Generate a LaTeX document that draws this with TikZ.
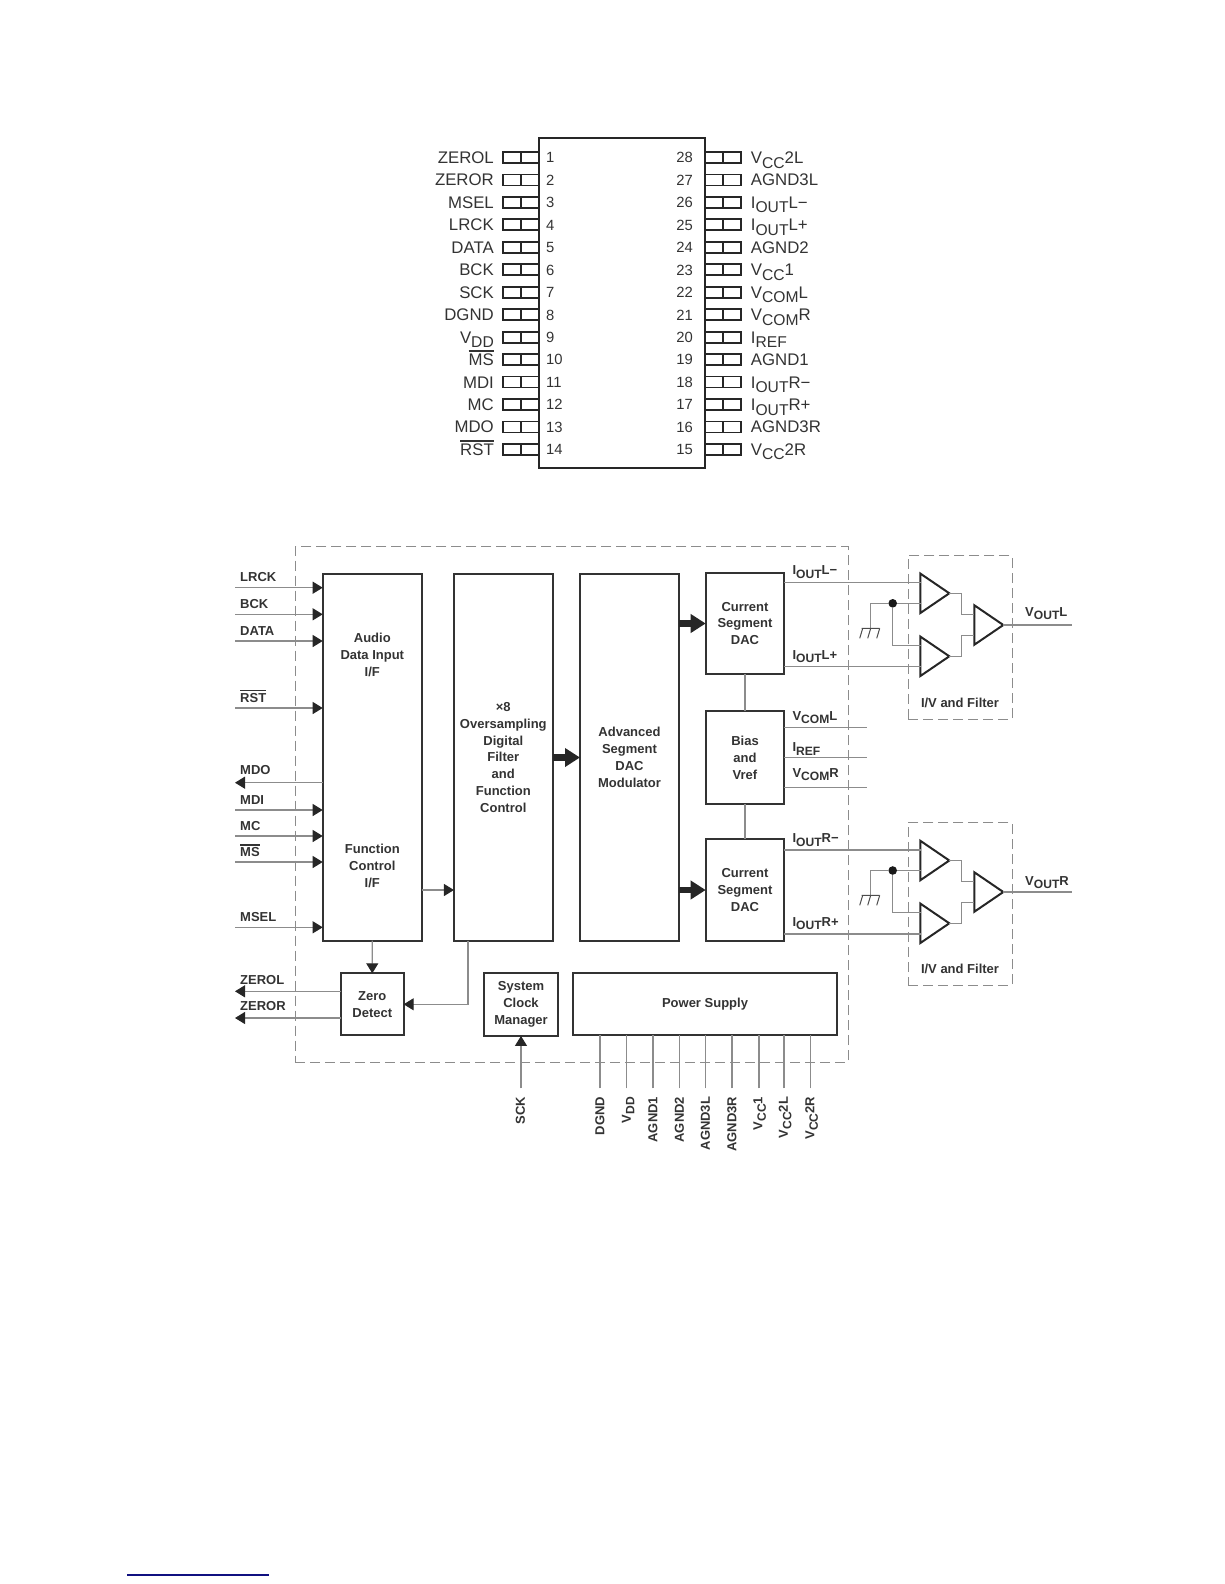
\documentclass[tikz,border=0pt]{standalone}
\usepackage{fontspec}
\usepackage{graphicx}
\setmainfont{Liberation Sans}
\usetikzlibrary{arrows.meta, shapes.geometric}
\newcommand{\lowtxt}[1]{\raisebox{-0.27em}{\scalebox{0.93}{#1}}}
\newcommand{\barred}[1]{\vbox{\hrule height 1.6pt \kern 2pt \hbox{#1}}}
\definecolor{inkgray}{gray}{0.2}
\definecolor{wiregray}{gray}{0.55}
\definecolor{linknavy}{RGB}{16,16,128}
\tikzset{
  chip/.style={
    rectangle,
    draw=black!85,
    line width=2.5pt,
    inner sep=0pt,
    outer sep=0pt,
    minimum width=166pt,
    minimum height=330pt
  },
  pinbox/.style={
    rectangle,
    draw=black!85,
    line width=1.8pt,
    inner sep=0pt,
    outer sep=0pt,
    minimum width=36pt,
    minimum height=11pt,
    path picture={\draw[black!85, line width=1.5pt] (path picture bounding box.north) -- (path picture bounding box.south);}
  },
  pinname/.style={font=\fontsize{16.8}{18}\selectfont, text=inkgray, inner sep=0pt, text height=12pt, text depth=0pt},
  pinnum/.style={font=\fontsize{14.8}{16}\selectfont, text=inkgray, inner sep=0pt, text height=10.6pt, text depth=0pt},
  leftpin/.style 2 args={
    pinbox,
    label={[pinname, label distance=9pt]left:#1},
    label={[pinnum, label distance=7pt]right:#2}
  },
  rightpin/.style 2 args={
    pinbox,
    label={[pinname, label distance=9.7pt]right:#1},
    label={[pinnum, label distance=12pt]left:#2}
  },
  block/.style={
    rectangle,
    draw=black!80,
    line width=2pt,
    inner sep=0pt,
    outer sep=0pt,
    align=center,
    text=inkgray,
    font=\fontsize{13}{16.8}\selectfont\bfseries
  },
  blocktext/.style={align=center, inner sep=0pt, text=inkgray, font=\fontsize{13}{16.8}\selectfont\bfseries},
  siglabel/.style={anchor=base west, inner sep=0pt, text=inkgray, font=\fontsize{13}{15}\selectfont\bfseries},
  pwrlabel/.style={rotate=90, anchor=east, inner sep=0pt, text=inkgray, text height=9.6pt, text depth=0pt, font=\fontsize{13}{15}\selectfont\bfseries},
  group/.style={rectangle, draw=black!45, line width=1pt, dash pattern=on 10pt off 5pt, inner sep=0pt, outer sep=0pt},
  wire/.style={draw=wiregray, line width=1.1pt},
  sigarrow/.style={wire, -{Triangle[length=10pt,width=12pt,color=black!85]}},
  bigarrow/.style={draw=black!85, line width=6.5pt, -{Triangle[length=15pt,width=18pt,color=black!85]}},
  amp/.style={
    isosceles triangle,
    isosceles triangle stretches,
    shape border rotate=0,
    draw=black!85,
    line width=2pt,
    inner sep=0pt,
    outer sep=0pt,
    minimum width=39.5pt,
    minimum height=29pt,
    anchor=apex
  },
  blackdot/.style={circle, fill=black!90, inner sep=0pt, minimum size=8.6pt}
}
\begin{document}
\begin{tikzpicture}[x=1pt,y=-1pt]
\useasboundingbox (0,0) rectangle (1224,1584);

% pin-out
\node[chip] (package) at (622,303) {};
\node[leftpin={ZEROL}{1}] (pin1) at (521,157.5) {};
\node[leftpin={ZEROR}{2}] (pin2) at (521,179.9) {};
\node[leftpin={MSEL}{3}] (pin3) at (521,202.4) {};
\node[leftpin={LRCK}{4}] (pin4) at (521,224.8) {};
\node[leftpin={DATA}{5}] (pin5) at (521,247.3) {};
\node[leftpin={BCK}{6}] (pin6) at (521,269.8) {};
\node[leftpin={SCK}{7}] (pin7) at (521,292.2) {};
\node[leftpin={DGND}{8}] (pin8) at (521,314.7) {};
\node[leftpin={V\lowtxt{DD}}{9}] (pin9) at (521,337.1) {};
\node[leftpin={\barred{MS}}{10}] (pin10) at (521,359.6) {};
\node[leftpin={MDI}{11}] (pin11) at (521,382) {};
\node[leftpin={MC}{12}] (pin12) at (521,404.5) {};
\node[leftpin={MDO}{13}] (pin13) at (521,426.9) {};
\node[leftpin={\barred{RST}}{14}] (pin14) at (521,449.4) {};
\node[rightpin={V\lowtxt{CC}2L}{28}] (pin28) at (723,157.5) {};
\node[rightpin={AGND3L}{27}] (pin27) at (723,179.9) {};
\node[rightpin={I\lowtxt{OUT}L−}{26}] (pin26) at (723,202.4) {};
\node[rightpin={I\lowtxt{OUT}L+}{25}] (pin25) at (723,224.8) {};
\node[rightpin={AGND2}{24}] (pin24) at (723,247.3) {};
\node[rightpin={V\lowtxt{CC}1}{23}] (pin23) at (723,269.8) {};
\node[rightpin={V\lowtxt{COM}L}{22}] (pin22) at (723,292.2) {};
\node[rightpin={V\lowtxt{COM}R}{21}] (pin21) at (723,314.7) {};
\node[rightpin={I\lowtxt{REF}}{20}] (pin20) at (723,337.1) {};
\node[rightpin={AGND1}{19}] (pin19) at (723,359.6) {};
\node[rightpin={I\lowtxt{OUT}R−}{18}] (pin18) at (723,382) {};
\node[rightpin={I\lowtxt{OUT}R+}{17}] (pin17) at (723,404.5) {};
\node[rightpin={AGND3R}{16}] (pin16) at (723,426.9) {};
\node[rightpin={V\lowtxt{CC}2R}{15}] (pin15) at (723,449.4) {};

% dashed outlines
\node[group, minimum width=552.7pt, minimum height=515.6pt] (device) at (571.65,804.5) {};
\node[group, minimum width=104pt, minimum height=163.3pt] (filterL) at (960,637.35) {};
\node[group, minimum width=104pt, minimum height=162.3pt] (filterR) at (960,903.85) {};
\node[blocktext] (filterLtext) at (960,703.3) {I/V and Filter};
\node[blocktext] (filterRtext) at (960,969.3) {I/V and Filter};

% blocks
\node[block, minimum width=99pt, minimum height=366.4pt] (audio) at (372.2,757.5) {};
\node[blocktext] (audiotext) at (372.3,655) {Audio\\Data Input\\I/F};
\node[blocktext] (functext) at (372.3,866) {Function\\Control\\I/F};
\node[block, minimum width=98.7pt, minimum height=366.4pt] (oversamp) at (503.3,757.5) {×8\\Oversampling\\Digital\\Filter\\and\\Function\\Control};
\node[block, minimum width=99pt, minimum height=366.4pt] (modulator) at (629.5,757.5) {Advanced\\Segment\\DAC\\Modulator};
\node[block, minimum width=78.6pt, minimum height=101.6pt] (dacL) at (745,623.5) {Current\\Segment\\DAC};
\node[block, minimum width=78.6pt, minimum height=93.3pt] (bias) at (745,757.7) {Bias\\and\\Vref};
\node[block, minimum width=78.6pt, minimum height=101.4pt] (dacR) at (745,890) {Current\\Segment\\DAC};
\node[block, minimum width=62.7pt, minimum height=62pt] (zero) at (372.3,1004.3) {Zero\\Detect};
\node[block, minimum width=73.4pt, minimum height=62.7pt] (sysclk) at (521,1004.6) {System\\Clock\\Manager};
\node[block, minimum width=263.4pt, minimum height=62pt] (power) at (705,1004.3) {Power Supply};

% audio and control signals
\node[siglabel] (lrcklabel) at (240,581.7) {LRCK};
\node[siglabel] (bcklabel) at (240,608.3) {BCK};
\node[siglabel] (datalabel) at (240,635) {DATA};
\node[siglabel] (rstlabel) at (240,702.3) {\barred{RST}};
\node[siglabel] (mdolabel) at (240,774.3) {MDO};
\node[siglabel] (mdilabel) at (240,804) {MDI};
\node[siglabel] (mclabel) at (240,830) {MC};
\node[siglabel] (mslabel) at (240,856.7) {\barred{MS}};
\node[siglabel] (msellabel) at (240,921) {MSEL};
\node[siglabel] (zerollabel) at (240,984.3) {ZEROL};
\node[siglabel] (zerorlabel) at (240,1010.7) {ZEROR};
\coordinate (lrckend) at (235,587.7);
\coordinate (bckend) at (235,614.3);
\coordinate (dataend) at (235,641);
\coordinate (rstend) at (235,708);
\coordinate (mdoend) at (235,782.7);
\coordinate (mdiend) at (235,810);
\coordinate (mcend) at (235,836);
\coordinate (msend) at (235,862);
\coordinate (mselend) at (235,927.3);
\coordinate (zerolend) at (235,991.3);
\coordinate (zerorend) at (235,1018);
\draw[sigarrow] (lrckend) -- (lrckend -| audio.west);
\draw[sigarrow] (bckend) -- (bckend -| audio.west);
\draw[sigarrow] (dataend) -- (dataend -| audio.west);
\draw[sigarrow] (rstend) -- (rstend -| audio.west);
\draw[sigarrow] (mdoend -| audio.west) -- (mdoend);
\draw[sigarrow] (mdiend) -- (mdiend -| audio.west);
\draw[sigarrow] (mcend) -- (mcend -| audio.west);
\draw[sigarrow] (msend) -- (msend -| audio.west);
\draw[sigarrow] (mselend) -- (mselend -| audio.west);
\draw[sigarrow] (zerolend -| zero.west) -- (zerolend);
\draw[sigarrow] (zerorend -| zero.west) -- (zerorend);

% between the blocks
\coordinate (ctrllink) at (421.7,890);
\coordinate (flagbend) at (468,1004.3);
\draw[sigarrow] (ctrllink) -- (ctrllink -| oversamp.west);
\draw[sigarrow] (audio.south |- zero.north) ++(0,-32.6) -- (zero.north);
\draw[sigarrow] (flagbend |- oversamp.south) -- (flagbend) -- (zero.east);
\draw[bigarrow] (oversamp.east) -- (modulator.west);
\draw[bigarrow] (dacL.west -| modulator.east) -- (dacL.west);
\draw[bigarrow] (dacR.west -| modulator.east) -- (dacR.west);
\draw[wire] (dacL) -- (bias);
\draw[wire] (bias) -- (dacR);

% power and clock pins
\coordinate (sckend) at (521,1088.3);
\coordinate (dgndend) at (600,1088.3);
\coordinate (vddend) at (626.7,1088.3);
\coordinate (agndaend) at (653,1088.3);
\coordinate (agndbend) at (679.3,1088.3);
\coordinate (agndlend) at (705.3,1088.3);
\coordinate (agndrend) at (732,1088.3);
\coordinate (vccaend) at (759,1088.3);
\coordinate (vcclend) at (784,1088.3);
\coordinate (vccrend) at (810.7,1088.3);
\draw[sigarrow] (sckend) -- (sysclk.south);
\draw[wire] (dgndend) -- (dgndend |- power.south);
\draw[wire] (vddend) -- (vddend |- power.south);
\draw[wire] (agndaend) -- (agndaend |- power.south);
\draw[wire] (agndbend) -- (agndbend |- power.south);
\draw[wire] (agndlend) -- (agndlend |- power.south);
\draw[wire] (agndrend) -- (agndrend |- power.south);
\draw[wire] (vccaend) -- (vccaend |- power.south);
\draw[wire] (vcclend) -- (vcclend |- power.south);
\draw[wire] (vccrend) -- (vccrend |- power.south);
\node[pwrlabel] (scklabel) at (520,1096.7) {SCK};
\node[pwrlabel] (dgndlabel) at (599.5,1096.7) {DGND};
\node[pwrlabel] (vddlabel) at (626,1096.7) {V\lowtxt{DD}};
\node[pwrlabel] (agndalabel) at (652.5,1096.7) {AGND1};
\node[pwrlabel] (agndblabel) at (679,1096.7) {AGND2};
\node[pwrlabel] (agndllabel) at (705,1096.7) {AGND3L};
\node[pwrlabel] (agndrlabel) at (731.5,1096.7) {AGND3R};
\node[pwrlabel] (vccalabel) at (757.5,1096.7) {V\lowtxt{CC}1};
\node[pwrlabel] (vccllabel) at (783,1096.7) {V\lowtxt{CC}2L};
\node[pwrlabel] (vccrlabel) at (809.5,1096.7) {V\lowtxt{CC}2R};

% bias outputs
\coordinate (vcomlend) at (867.3,727.7);
\coordinate (irefend) at (867.3,757.7);
\coordinate (vcomrend) at (867.3,787.7);
\draw[wire] (vcomlend -| bias.east) -- (vcomlend);
\draw[wire] (irefend -| bias.east) -- (irefend);
\draw[wire] (vcomrend -| bias.east) -- (vcomrend);
\node[siglabel] (vcomllabel) at (792.3,720) {V\lowtxt{COM}L};
\node[siglabel] (ireflabel) at (792.3,751.7) {I\lowtxt{REF}};
\node[siglabel] (vcomrlabel) at (792.3,777.3) {V\lowtxt{COM}R};

% left filter
\node[amp] (ampLa) at (949.3,593.3) {};
\node[amp] (ampLb) at (949.3,656.3) {};
\node[amp] (ampLc) at (1003.3,625) {};
\node[blackdot] (dotL) at (892.7,603.3) {};
\coordinate (ioutLm) at (920.7,582.7);
\coordinate (ioutLp) at (920.7,666.7);
\coordinate (refL) at (920.7,645.3);
\coordinate (gndL) at (870.7,628.3);
\coordinate (jogLa) at (961.3,614.7);
\coordinate (jogLb) at (961.3,635.7);
\coordinate (voutLend) at (1071.7,625);
\draw[wire] (ioutLm -| dacL.east) -- (ioutLm);
\draw[wire] (ioutLp -| dacL.east) -- (ioutLp);
\draw[wire] (dotL) -- (dotL -| refL);
\draw[wire] (dotL) |- (refL);
\draw[wire] (dotL) -| (gndL);
\draw[wire] (ampLa.apex) -| (jogLa) -- (jogLa -| ampLc.lower side);
\draw[wire] (ampLb.apex) -| (jogLb) -- (jogLb -| ampLc.lower side);
\draw[wire] (ampLc.apex) -- (voutLend);
\draw[black!70, line width=1pt] (gndL) ++(-9,0) -- ++(18,0) ++(0,0) -- ++(-3,10) (gndL) -- ++(-3,10) (gndL) ++(-8,0) -- ++(-3,10);
\node[siglabel] (ioutLmlabel) at (792.3,574.5) {I\lowtxt{OUT}L−};
\node[siglabel] (ioutLplabel) at (792.3,659) {I\lowtxt{OUT}L+};
\node[siglabel] (voutLlabel) at (1025,616) {V\lowtxt{OUT}L};

% right filter
\node[amp] (ampRa) at (949.3,860.5) {};
\node[amp] (ampRb) at (949.3,923.3) {};
\node[amp] (ampRc) at (1003.3,892) {};
\node[blackdot] (dotR) at (892.7,870.5) {};
\coordinate (ioutRm) at (920.7,850);
\coordinate (ioutRp) at (920.7,934);
\coordinate (refR) at (920.7,912.5);
\coordinate (gndR) at (870.7,895.3);
\coordinate (jogRa) at (961.3,881.7);
\coordinate (jogRb) at (961.3,902.7);
\coordinate (voutRend) at (1071.7,892);
\draw[wire] (ioutRm -| dacR.east) -- (ioutRm);
\draw[wire] (ioutRp -| dacR.east) -- (ioutRp);
\draw[wire] (dotR) -- (dotR -| refR);
\draw[wire] (dotR) |- (refR);
\draw[wire] (dotR) -| (gndR);
\draw[wire] (ampRa.apex) -| (jogRa) -- (jogRa -| ampRc.lower side);
\draw[wire] (ampRb.apex) -| (jogRb) -- (jogRb -| ampRc.lower side);
\draw[wire] (ampRc.apex) -- (voutRend);
\draw[black!70, line width=1pt] (gndR) ++(-9,0) -- ++(18,0) ++(0,0) -- ++(-3,10) (gndR) -- ++(-3,10) (gndR) ++(-8,0) -- ++(-3,10);
\node[siglabel] (ioutRmlabel) at (792.3,842.7) {I\lowtxt{OUT}R−};
\node[siglabel] (ioutRplabel) at (792.3,926) {I\lowtxt{OUT}R+};
\node[siglabel] (voutRlabel) at (1025,885) {V\lowtxt{OUT}R};

% rule at the foot of the page
\coordinate (footstart) at (127,1575);
\coordinate (footend) at (269,1575);
\draw[linknavy, line width=1.3pt] (footstart) -- (footend);
\end{tikzpicture}
\end{document}
